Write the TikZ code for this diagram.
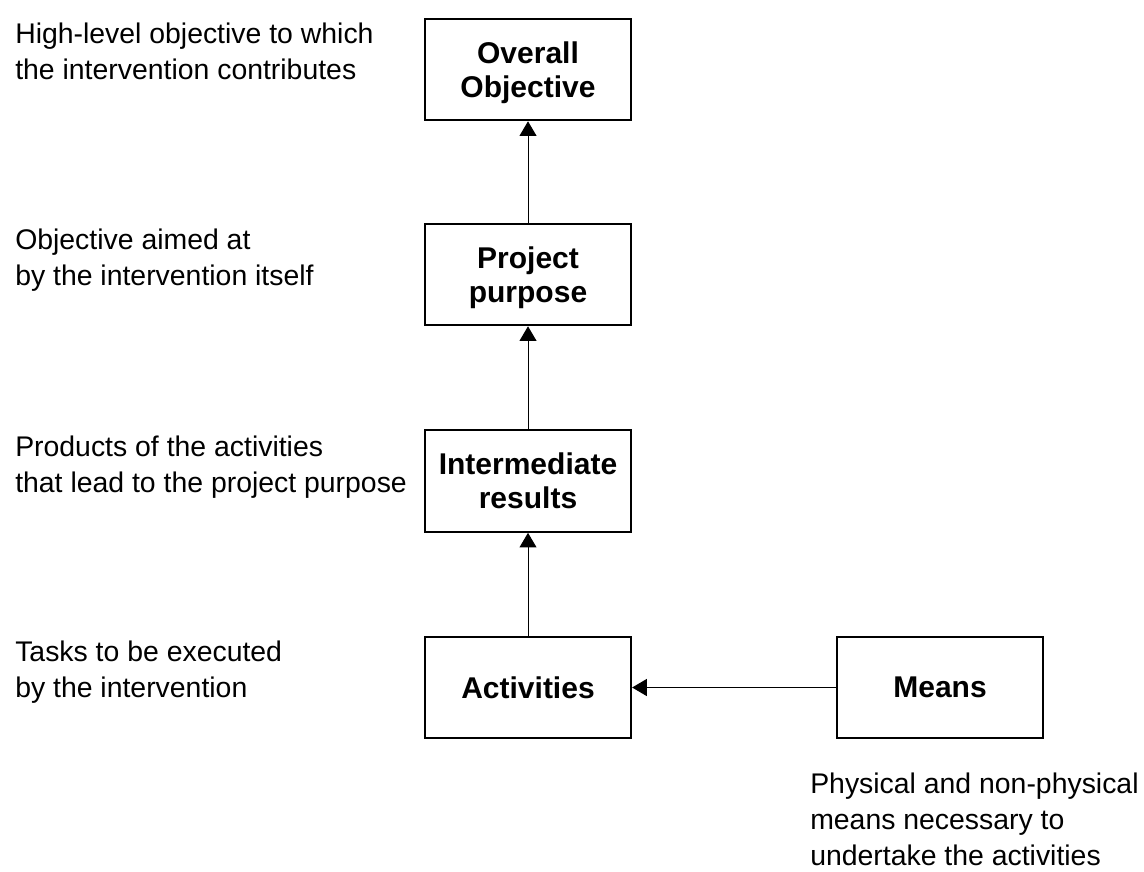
\documentclass[tikz,border=0pt]{standalone}
\usepackage{fontspec}
\setmainfont{Liberation Sans}
\usepackage{tikz}
\usetikzlibrary{calc}
\usetikzlibrary{arrows.meta}
\tikzset{lfabox/.style={draw, line width=1.7pt, minimum width=154.5pt, minimum height=76pt, inner sep=0pt, text depth=0pt, align=center, font=\fontsize{22.5}{25.5}\selectfont\bfseries}}
\tikzset{lfanote/.style={anchor=base west, inner sep=0pt, align=left, font=\fontsize{21.3}{27}\selectfont}}
\tikzset{lfaarrow/.style={-{Triangle[width=12.75pt,length=11pt]}, line width=0.75pt}}
\newcommand{\createbox}[4]{\node[lfabox] (#1) at ( #2 , #3 ) {#4};}
\newcommand{\createnote}[4]{\node[lfanote] (#1) at ( #2 , #3 ) {#4};}

\begin{document}
\begin{tikzpicture}[x=0.75pt, y=-0.75pt]
        \useasboundingbox (0,0) rectangle (1144,871);
        \createbox{overall}{528}{69.5}{Overall\\Objective}
        \createbox{purpose}{528}{274.5}{Project\\purpose}
        \createbox{results}{528}{481}{Intermediate\\results}
        \createbox{activities}{528}{687.5}{Activities}
        \createbox{means}{940}{687.5}{Means}
        \createnote{overallnote}{15}{79}{High-level objective to which\\the intervention contributes}
        \createnote{purposenote}{15}{285}{Objective aimed at\\by the intervention itself}
        \createnote{resultsnote}{15}{492}{Products of the activities\\that lead to the project purpose}
        \createnote{activitiesnote}{15}{697}{Tasks to be executed\\by the intervention}
        \createnote{meansnote}{810}{865}{Physical and non-physical\\means necessary to\\undertake the activities}
        \draw[lfaarrow] (purpose) -- (overall);
        \draw[lfaarrow] (results) -- (purpose);
        \draw[lfaarrow] (activities) -- (results);
        \draw[lfaarrow] (means) -- (activities);
    \end{tikzpicture}
\end{document}
